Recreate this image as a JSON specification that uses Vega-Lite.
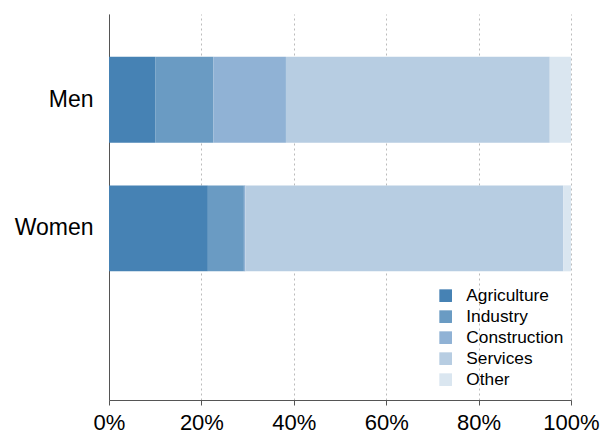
{
  "$schema": "https://vega.github.io/schema/vega-lite/v6.json",
  "width": 462,
  "height": 386,
  "autosize": "none",
  "padding": {"left": 109, "top": 14, "right": 31, "bottom": 32},
  "background": "white",
  "config": {
    "font": "Liberation Sans",
    "view": {"stroke": null}
  },
  "data": {
    "values": [
      {"group": "Men", "sector": "Agriculture", "k": 1, "share": 0.100},
      {"group": "Men", "sector": "Industry", "k": 2, "share": 0.126},
      {"group": "Men", "sector": "Construction", "k": 3, "share": 0.157},
      {"group": "Men", "sector": "Services", "k": 4, "share": 0.571},
      {"group": "Men", "sector": "Other", "k": 5, "share": 0.046},
      {"group": "Women", "sector": "Agriculture", "k": 1, "share": 0.214},
      {"group": "Women", "sector": "Industry", "k": 2, "share": 0.078},
      {"group": "Women", "sector": "Construction", "k": 3, "share": 0.003},
      {"group": "Women", "sector": "Services", "k": 4, "share": 0.688},
      {"group": "Women", "sector": "Other", "k": 5, "share": 0.017}
    ]
  },
  "mark": {"type": "bar"},
  "encoding": {
    "y": {
      "field": "group",
      "type": "nominal",
      "scale": {"domain": ["Men", "Women", "_"], "paddingInner": 0.332, "paddingOuter": 0.166, "align": 1},
      "axis": {
        "title": null,
        "ticks": false,
        "tickSize": 0,
        "labelPadding": 16,
        "labelFontSize": 23,
        "labelColor": "#000",
        "domainColor": "#555",
        "domainWidth": 1,
        "labelExpr": "datum.value == '_' ? '' : datum.value"
      }
    },
    "x": {
      "field": "share",
      "type": "quantitative",
      "stack": "zero",
      "scale": {"domain": [0, 1], "nice": false},
      "axis": {
        "title": null,
        "format": ".0%",
        "values": [0, 0.2, 0.4, 0.6, 0.8, 1],
        "labelFontSize": 22,
        "labelColor": "#000",
        "labelPadding": 7,
        "tickSize": 5,
        "tickColor": "#555",
        "domainColor": "#555",
        "grid": true,
        "gridColor": "#bbbbbb",
        "gridDash": [2, 3],
        "gridWidth": 1,
        "labelFlush": false
      }
    },
    "color": {
      "field": "sector",
      "type": "nominal",
      "sort": ["Agriculture", "Industry", "Construction", "Services", "Other"],
      "scale": {
        "domain": ["Agriculture", "Industry", "Construction", "Services", "Other"],
        "range": ["#4682b4", "#6a9bc3", "#90b2d5", "#b7cde2", "#dae6f0"]
      },
      "legend": {
        "title": null,
        "orient": "none",
        "legendX": 328,
        "legendY": 273,
        "padding": 0,
        "symbolType": "square",
        "symbolSize": 160,
        "symbolStrokeWidth": 0,
        "labelFontSize": 17.3,
        "labelColor": "#000",
        "labelOffset": 12,
        "rowPadding": 3
      }
    },
    "order": {"field": "k", "type": "quantitative"}
  }
}
